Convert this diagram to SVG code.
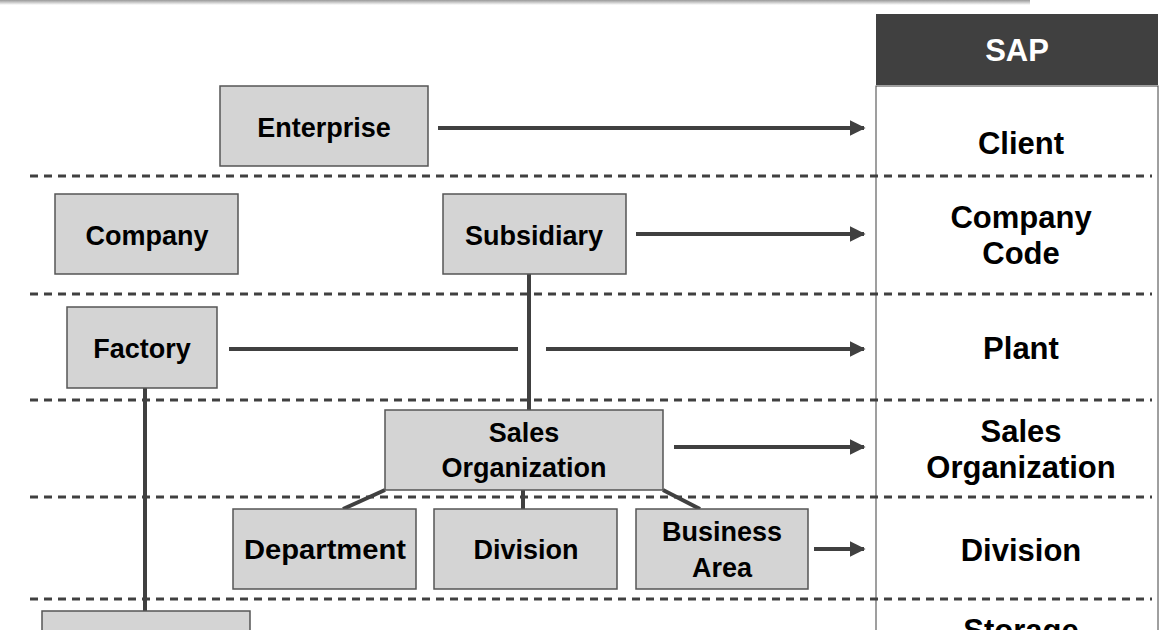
<svg xmlns="http://www.w3.org/2000/svg" width="1161" height="630" viewBox="0 0 1161 630">
<defs>
<style>
text{font-family:"Liberation Sans",Arial,sans-serif;font-weight:bold;fill:#000;text-anchor:middle}
.b{font-size:27px}
.r{font-size:31px}
.box{fill:#d4d4d4;stroke:#555;stroke-width:1.5}
.c{stroke:#404040;stroke-width:4;fill:none}
.d{stroke:#404040;stroke-width:3;stroke-dasharray:8 6}
</style>
<marker id="ah" viewBox="0 0 10 10" refX="9" refY="5" markerWidth="4" markerHeight="4" orient="auto"><path d="M0,0L10,5L0,10z" fill="#404040"/></marker>
<linearGradient id="tg" x1="0" y1="0" x2="0" y2="1"><stop offset="0" stop-color="#999"/><stop offset="1" stop-color="#fff"/></linearGradient>
</defs>
<rect width="1161" height="630" fill="#fff"/>
<rect x="0" y="0" width="1030" height="5" fill="url(#tg)"/>
<g id="sap-column">
<rect x="876" y="86" width="282" height="560" fill="#fff" stroke="#404040" stroke-width="1"/>
<rect x="876" y="14" width="282" height="71" fill="#404040"/>
<text x="1017" y="61" class="r" style="fill:#fff">SAP</text>
<text x="1021" y="154" class="r">Client</text>
<text x="1021" y="228" class="r">Company</text>
<text x="1021" y="264" class="r">Code</text>
<text x="1021" y="359" class="r">Plant</text>
<text x="1021" y="442" class="r">Sales</text>
<text x="1021" y="478" class="r">Organization</text>
<text x="1021" y="561" class="r">Division</text>
<text x="1021" y="641" class="r">Storage</text>
</g>
<g id="separators">
<line class="d" x1="30" y1="176" x2="1152" y2="176"/>
<line class="d" x1="30" y1="294" x2="1152" y2="294"/>
<line class="d" x1="30" y1="400" x2="1152" y2="400"/>
<line class="d" x1="30" y1="497" x2="1152" y2="497"/>
<line class="d" x1="30" y1="599" x2="1152" y2="599"/>
</g>
<g id="connectors">
<line class="c" x1="438" y1="128" x2="864" y2="128" marker-end="url(#ah)"/>
<line class="c" x1="636" y1="234" x2="864" y2="234" marker-end="url(#ah)"/>
<line class="c" x1="229" y1="349" x2="518" y2="349"/>
<line class="c" x1="546" y1="349" x2="864" y2="349" marker-end="url(#ah)"/>
<line class="c" x1="674" y1="447" x2="864" y2="447" marker-end="url(#ah)"/>
<line class="c" x1="814" y1="549" x2="864" y2="549" marker-end="url(#ah)"/>
<line class="c" x1="529" y1="274" x2="529" y2="410"/>
<line class="c" x1="145" y1="388" x2="145" y2="611"/>
<line class="c" x1="385" y1="490" x2="343" y2="509"/>
<line class="c" x1="523" y1="490" x2="523" y2="509"/>
<line class="c" x1="663" y1="490" x2="700" y2="509"/>
</g>
<g id="enterprise"><rect class="box" x="220" y="86" width="208" height="80"/><text class="b" x="324" y="137">Enterprise</text></g>
<g id="company"><rect class="box" x="55" y="194" width="183" height="80"/><text class="b" x="147" y="245">Company</text></g>
<g id="subsidiary"><rect class="box" x="443" y="194" width="183" height="80"/><text class="b" x="534" y="245">Subsidiary</text></g>
<g id="factory"><rect class="box" x="67" y="307" width="150" height="81"/><text class="b" x="142" y="358">Factory</text></g>
<g id="sales-org"><rect class="box" x="385" y="410" width="278" height="80"/><text class="b" x="524" y="442">Sales</text><text class="b" x="524" y="477">Organization</text></g>
<g id="department"><rect class="box" x="233" y="509" width="183" height="80"/><text class="b" x="325" y="559" textLength="162" lengthAdjust="spacingAndGlyphs">Department</text></g>
<g id="division"><rect class="box" x="434" y="509" width="183" height="80"/><text class="b" x="526" y="559">Division</text></g>
<g id="business-area"><rect class="box" x="636" y="509" width="172" height="80"/><text class="b" x="722" y="541">Business</text><text class="b" x="722" y="577">Area</text></g>
<g id="storage-box"><rect class="box" x="42" y="611" width="208" height="40"/></g>
</svg>
